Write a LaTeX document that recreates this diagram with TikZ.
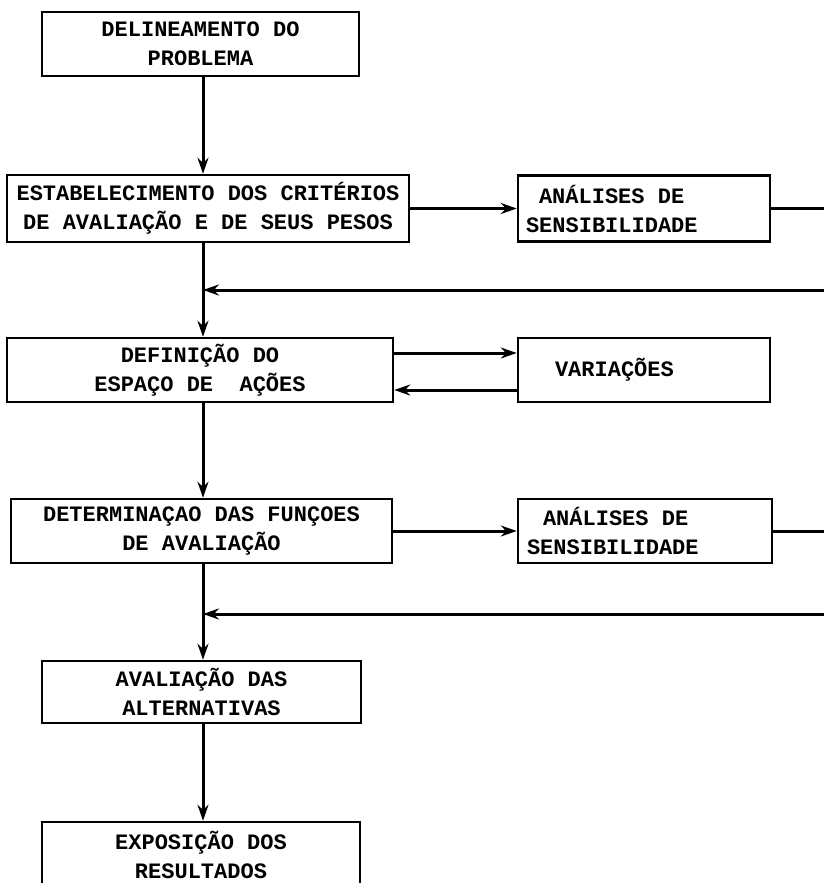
\documentclass[tikz,border=0pt]{standalone}
\usepackage{fontspec}
\setmainfont{Liberation Mono}
\usetikzlibrary{arrows.meta}

\begin{document}
\begin{tikzpicture}[x=1pt,y=-1pt,>={Stealth[length=16pt,width=11pt]},
			line width=3pt,
			box/.style={draw,line width=2.5pt,inner sep=0pt,align=center,
				font=\bfseries\fontsize{22}{29}\selectfont},
			sidebox/.style={box,align=flush left,inner xsep=8pt,text width=236pt,
				minimum width=252pt,minimum height=66pt,
				execute at begin node={\spaceskip=0.6em\relax}}]
			\path[use as bounding box,clip] (0,0) rectangle (824,883);
			% main column
			\coordinate (spine) at (203,0);
			\node[box,minimum width=317pt,minimum height=64pt] (problema) at (200.5,44) {DELINEAMENTO DO\\PROBLEMA};
			\node[box,minimum width=402pt,minimum height=67pt] (criterios) at (208,208.5) {ESTABELECIMENTO DOS CRITÉRIOS\\DE AVALIAÇÃO E DE SEUS PESOS};
			\node[box,minimum width=386pt,minimum height=64pt] (espaco) at (200,370) {DEFINIÇÃO DO\\ESPAÇO DE\ \ AÇÕES};
			\node[box,minimum width=381pt,minimum height=64pt] (funcoes) at (201.5,531) {DETERMINAÇAO DAS FUNÇOES\\DE AVALIAÇÃO};
			\node[box,minimum width=319pt,minimum height=62pt] (avaliacao) at (201.5,692) {AVALIAÇÃO DAS\\ALTERNATIVAS};
			\node[box,minimum width=318pt,minimum height=66pt] (resultados) at (201,855) {EXPOSIÇÃO DOS\\RESULTADOS};
			% side boxes
			\node[sidebox] (sens1) at (644,208.5) {\hspace*{13pt}ANÁLISES DE\\SENSIBILIDADE};
			\node[sidebox,inner xsep=37pt,text width=178pt,minimum height=64pt] (variacoes) at (644,370) {VARIAÇÕES};
			\node[sidebox,minimum width=254pt,minimum height=64pt] (sens2) at (645,531) {\hspace*{16pt}ANÁLISES DE\\SENSIBILIDADE};
			% feedback corners
			\coordinate (fb1) at (830,290);
			\coordinate (fb2) at (830,614);
			\path[->]
			(problema.south -| spine) edge (criterios.north -| spine)
			(criterios.south -| spine) edge (espaco.north -| spine)
			(espaco.south -| spine) edge (funcoes.north -| spine)
			(funcoes.south -| spine) edge (avaliacao.north -| spine)
			(avaliacao.south -| spine) edge (resultados.north -| spine)
			(criterios.east) edge (sens1.west)
			(funcoes.east) edge (sens2.west)
			([yshift=17pt]espaco.east) edge ([yshift=17pt]variacoes.west)
			([yshift=-20pt]variacoes.west) edge ([yshift=-20pt]espaco.east);
			\draw[->] (sens1.east) -| (fb1) -- (fb1 -| spine);
			\draw[->] (sens2.east) -| (fb2) -- (fb2 -| spine);
\end{tikzpicture}
\end{document}
